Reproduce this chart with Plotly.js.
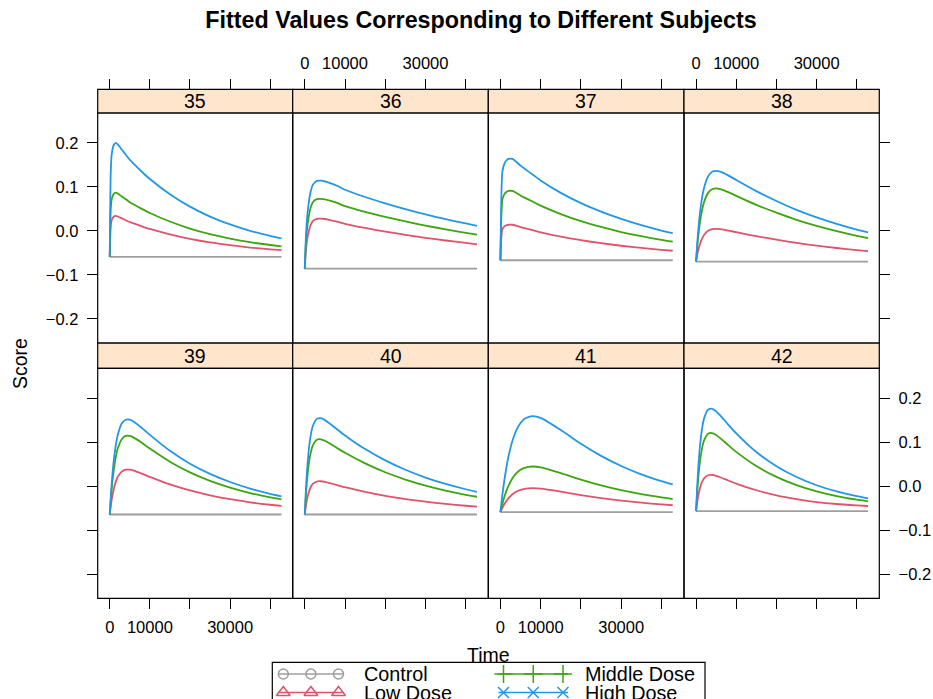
<!DOCTYPE html>
<html>
<head>
<meta charset="utf-8">
<script src="https://cdn.plot.ly/plotly-3.0.1.min.js"></script>
<style>html,body{margin:0;padding:0;background:#fff;}#chart{width:933px;height:699px;}</style>
</head>
<body>
<div id="chart"></div>
<script>
// ---------------- data ----------------
const subjects = ["35", "36", "37", "38", "39", "40", "41", "42"];
const groups = ["Control", "Low Dose", "Middle Dose", "High Dose"];
const time = [0, 250, 500, 1000, 1500, 2000, 3000, 4000, 5000, 6000, 8000, 10000, 15000, 20000, 25000, 30000, 35000, 40000, 42800];
const controlLevel = [-0.059, -0.0856, -0.0667, -0.0697, -0.0643, -0.0643, -0.059, -0.0567];

const low_35  = [-0.059, 0.0098, 0.0247, 0.0321, 0.0338, 0.0326, 0.0284, 0.0242, 0.0201, 0.0168, 0.0104, 0.0044, -0.0079, -0.0181, -0.0262, -0.0325, -0.0378, -0.0419, -0.0439];
const mid_35  = [-0.059, 0.049, 0.0724, 0.0841, 0.0867, 0.0848, 0.0782, 0.0717, 0.0652, 0.060, 0.0499, 0.0406, 0.0212, 0.0052, -0.0075, -0.0175, -0.0257, -0.0321, -0.0353];
const high_35 = [-0.059, 0.1327, 0.1741, 0.1948, 0.1995, 0.1961, 0.1845, 0.1728, 0.1614, 0.1521, 0.1342, 0.1176, 0.0832, 0.055, 0.0324, 0.0147, 0.0001, -0.0113, -0.017];

const low_36  = [-0.0856, -0.0481, -0.0254, -0.0004, 0.0144, 0.0223, 0.0274, 0.0278, 0.0269, 0.0252, 0.0212, 0.0161, 0.0066, -0.0015, -0.009, -0.0157, -0.0219, -0.0274, -0.0305];
const mid_36  = [-0.0856, -0.0333, -0.0015, 0.0334, 0.054, 0.0651, 0.0722, 0.0727, 0.0714, 0.069, 0.0635, 0.0563, 0.0432, 0.0318, 0.0213, 0.012, 0.0034, -0.0044, -0.0087];
const high_36 = [-0.0856, -0.0196, 0.0204, 0.0644, 0.0904, 0.1044, 0.1134, 0.114, 0.1124, 0.1094, 0.1024, 0.0934, 0.0768, 0.0624, 0.0492, 0.0374, 0.0266, 0.0168, 0.0114];

const low_37  = [-0.0667, -0.0141, 0.0038, 0.0103, 0.0127, 0.0139, 0.0139, 0.0115, 0.0086, 0.0062, 0.0016, -0.0032, -0.0131, -0.0212, -0.028, -0.0338, -0.0388, -0.043, -0.0451];
const mid_37  = [-0.0667, 0.036, 0.071, 0.0834, 0.088, 0.0905, 0.0905, 0.0858, 0.0802, 0.0755, 0.0665, 0.0572, 0.038, 0.022, 0.0088, -0.0026, -0.0122, -0.0206, -0.0245];
const high_37 = [-0.0667, 0.0835, 0.1343, 0.1528, 0.1597, 0.1632, 0.1632, 0.1562, 0.148, 0.1412, 0.128, 0.1144, 0.0862, 0.0631, 0.0437, 0.0271, 0.013, 0.0008, -0.005];

const low_38  = [-0.0697, -0.0571, -0.046, -0.0293, -0.0175, -0.0093, 0.0, 0.0037, 0.0045, 0.0038, 0.0008, -0.003, -0.0121, -0.0201, -0.0274, -0.0336, -0.0389, -0.0436, -0.0458];
const mid_38  = [-0.0697, -0.0415, -0.0166, 0.0208, 0.0472, 0.0654, 0.0862, 0.0945, 0.0963, 0.0948, 0.088, 0.0795, 0.0591, 0.0412, 0.0249, 0.0111, -0.0008, -0.0113, -0.0162];
const high_38 = [-0.0697, -0.0347, -0.0038, 0.0426, 0.0753, 0.098, 0.1237, 0.134, 0.1363, 0.1344, 0.126, 0.1155, 0.0902, 0.0679, 0.0477, 0.0306, 0.0158, 0.0028, -0.0034];

const low_39  = [-0.0643, -0.0459, -0.0305, -0.0069, 0.0097, 0.021, 0.0331, 0.0373, 0.0373, 0.0352, 0.0284, 0.021, 0.0039, -0.0098, -0.0207, -0.0295, -0.0366, -0.0422, -0.0448];
const mid_39  = [-0.0643, -0.0321, -0.005, 0.0365, 0.0655, 0.0853, 0.1066, 0.114, 0.114, 0.1102, 0.0984, 0.0853, 0.0555, 0.0313, 0.0121, -0.0033, -0.0156, -0.0255, -0.0301];
const high_39 = [-0.0643, -0.0254, 0.0072, 0.0573, 0.0923, 0.1163, 0.142, 0.1508, 0.1508, 0.1463, 0.132, 0.1163, 0.0802, 0.051, 0.0279, 0.0094, -0.0055, -0.0174, -0.023];

const low_40  = [-0.0643, -0.0469, -0.0329, -0.0136, -0.0019, 0.005, 0.0106, 0.0112, 0.0096, 0.0074, 0.0025, -0.0023, -0.013, -0.022, -0.0293, -0.0353, -0.0403, -0.0445, -0.0465];
const mid_40  = [-0.0643, -0.025, 0.0067, 0.0504, 0.077, 0.0925, 0.1052, 0.1064, 0.103, 0.098, 0.0868, 0.0758, 0.0516, 0.0315, 0.015, 0.0012, -0.0101, -0.0195, -0.024];
const high_40 = [-0.0643, -0.0139, 0.0267, 0.0827, 0.1166, 0.1365, 0.1527, 0.1543, 0.1499, 0.1435, 0.1292, 0.1152, 0.0841, 0.0585, 0.0372, 0.0196, 0.0051, -0.007, -0.0127];

const low_41  = [-0.059, -0.0538, -0.049, -0.0406, -0.0335, -0.0276, -0.0185, -0.0123, -0.0084, -0.006, -0.0045, -0.0055, -0.0124, -0.0202, -0.0271, -0.0328, -0.0375, -0.0414, -0.0433];
const mid_41  = [-0.059, -0.0492, -0.0401, -0.0241, -0.0106, 0.0007, 0.018, 0.0297, 0.0372, 0.0417, 0.0446, 0.0426, 0.0296, 0.0148, 0.0017, -0.0092, -0.0182, -0.0256, -0.0292];
const high_41 = [-0.059, -0.0383, -0.0193, 0.0145, 0.0428, 0.0667, 0.103, 0.1276, 0.1435, 0.1529, 0.159, 0.1549, 0.1274, 0.0962, 0.0687, 0.0458, 0.0268, 0.0113, 0.0038];

const low_42  = [-0.0567, -0.0394, -0.0245, -0.0036, 0.0096, 0.0178, 0.0248, 0.0255, 0.0234, 0.0202, 0.0128, 0.0057, -0.0093, -0.0207, -0.0293, -0.036, -0.0405, -0.0435, -0.045];
const mid_42  = [-0.0567, -0.0194, 0.0128, 0.0577, 0.0864, 0.1039, 0.119, 0.1205, 0.116, 0.109, 0.0932, 0.0778, 0.0456, 0.021, 0.0023, -0.0119, -0.0226, -0.0308, -0.0345];
const high_42 = [-0.0567, -0.0078, 0.0344, 0.0934, 0.1309, 0.1538, 0.1737, 0.1756, 0.1698, 0.1606, 0.1398, 0.1197, 0.0774, 0.0452, 0.0207, 0.0021, -0.012, -0.0228, -0.0276];

const xTickVals = [0, 10000, 20000, 30000, 40000];
const xTickText = ["0", "10000", "", "30000", ""];
const yTickVals = [-0.2, -0.1, 0, 0.1, 0.2];
const yTickText = ["\u22120.2", "\u22120.1", "0.0", "0.1", "0.2"];

// ---------------- build ----------------
const lowSeries  = [low_35, low_36, low_37, low_38, low_39, low_40, low_41, low_42];
const midSeries  = [mid_35, mid_36, mid_37, mid_38, mid_39, mid_40, mid_41, mid_42];
const highSeries = [high_35, high_36, high_37, high_38, high_39, high_40, high_41, high_42];

const colors = ["#9E9E9E", "#DF536B", "#3DA510", "#2297E6"];
const symbols = ["circle-open", "triangle-up-open", "cross-thin-open", "x-thin-open"];
const symSize = [10, 12, 13, 11];
const FONT = "Liberation Sans, Arial, Helvetica, sans-serif";

const W = 933, H = 699;
const colPx = [[97.7, 292.7], [292.7, 488.3], [488.3, 684], [684, 879.3]];
const rowPlot = [[113, 343], [368.3, 598.3]];
const rowStrip = [[89.3, 113], [343, 368.3]];
const px = x => x / W;
const py = y => 1 - y / H;

const traces = [];
const layout = {
  width: W, height: H,
  margin: {l: 0, r: 0, t: 0, b: 0},
  paper_bgcolor: "#fff", plot_bgcolor: "rgba(0,0,0,0)",
  font: {family: FONT, color: "#000", size: 16.5},
  showlegend: false,
  title: {text: "Fitted Values Corresponding to Different Subjects", x: 481 / W, xanchor: "center",
          y: py(20), yanchor: "middle", yref: "paper", xref: "paper",
          font: {family: FONT, size: 23.3, weight: 700, color: "#000"}},
  shapes: [], annotations: []
};

subjects.forEach((s, i) => {
  const r = Math.floor(i / 4), c = i % 4;
  const xa = "x" + (i + 1), ya = "y" + (i + 1);
  const series = [time.map(() => controlLevel[i]), lowSeries[i], midSeries[i], highSeries[i]];
  series.forEach((vals, g) => {
    traces.push({type: "scatter", mode: "lines", x: time, y: vals, xaxis: xa, yaxis: ya,
      line: {color: colors[g], width: 1.8, shape: g === 0 ? "linear" : "spline", smoothing: 0.6},
      name: groups[g], hoverinfo: "skip"});
  });
  const x0 = colPx[c][0], x1 = colPx[c][1];
  const showXLab = r === 0 ? (c === 1 || c === 3) : (c === 0 || c === 2);
  const xax = {
    domain: [px(x0), px(x1)], range: [-3000, 45600],
    tickmode: "array", tickvals: xTickVals, ticktext: xTickText,
    ticks: "outside", ticklen: 10, tickwidth: 1, tickcolor: "#000",
    showticklabels: showXLab, ticklabelstandoff: 4,
    tickfont: {family: FONT, size: 16.5, color: "#000"},
    showgrid: false, zeroline: false, showline: false, fixedrange: true,
    side: r === 0 ? "top" : "bottom"
  };
  if (r === 0) { xax.anchor = "free"; xax.position = py(rowStrip[0][0]); }
  else { xax.anchor = ya; }
  layout["xaxis" + (i + 1)] = xax;
  const hasYTicks = (c === 0 || c === 3);
  const showYLab = (c === 0 && r === 0) || (c === 3 && r === 1);
  layout["yaxis" + (i + 1)] = {
    domain: [py(rowPlot[r][1]), py(rowPlot[r][0])], range: [-0.2545, 0.2675],
    anchor: xa, side: c === 3 ? "right" : "left",
    tickmode: "array", tickvals: yTickVals, ticktext: yTickText,
    ticks: hasYTicks ? "outside" : "", ticklen: 10, tickwidth: 1, tickcolor: "#000",
    showticklabels: showYLab, ticklabelstandoff: 5,
    tickfont: {family: FONT, size: 16.5, color: "#000"},
    showgrid: false, zeroline: false, showline: false, fixedrange: true
  };
  layout.shapes.push({type: "rect", xref: "paper", yref: "paper",
    x0: px(x0), x1: px(x1), y0: py(rowStrip[r][1]), y1: py(rowStrip[r][0]),
    fillcolor: "#FFE5CC", line: {color: "#000", width: 1.2}, layer: "below"});
  layout.shapes.push({type: "rect", xref: "paper", yref: "paper",
    x0: px(x0), x1: px(x1), y0: py(rowPlot[r][1]), y1: py(rowPlot[r][0]),
    fillcolor: "rgba(0,0,0,0)", line: {color: "#000", width: 1.2}, layer: "above"});
  layout.annotations.push({text: s, xref: "paper", yref: "paper",
    x: px((x0 + x1) / 2), y: py((rowStrip[r][0] + rowStrip[r][1]) / 2),
    xanchor: "center", yanchor: "middle", showarrow: false,
    font: {family: FONT, size: 19.5, color: "#000"}});
});

// ---------------- key (lattice-style legend in its own pixel-space axis) ----------------
layout.xaxis9 = {domain: [0, 1], range: [0, W], visible: false, fixedrange: true, anchor: "y9"};
layout.yaxis9 = {domain: [0, 1], range: [H, 0], visible: false, fixedrange: true, anchor: "x9"};
const keyCols = [{lineX: [278.3, 343.5], text: 362}, {lineX: [498.5, 568], text: 583}];
const keyRows = [674, 692.5];
const keyPos = [[0, 0], [0, 1], [1, 0], [1, 1]]; // [col,row] for Control, Low, Middle, High
groups.forEach((g, k) => {
  const kc = keyCols[keyPos[k][0]], ky = keyRows[keyPos[k][1]];
  const a = kc.lineX[0], b = kc.lineX[1], pad = 5;
  const mx = [a + pad, (a + b) / 2, b - pad];
  traces.push({type: "scatter", mode: "lines", x: [a, b], y: [ky, ky], xaxis: "x9", yaxis: "y9",
    line: {color: colors[k], width: 1.7}, hoverinfo: "skip"});
  traces.push({type: "scatter", mode: "markers", x: mx, y: [ky, ky, ky], xaxis: "x9", yaxis: "y9",
    marker: {symbol: symbols[k], color: colors[k], size: symSize[k], line: {color: colors[k], width: 1.5}},
    hoverinfo: "skip"});
  layout.annotations.push({text: g, xref: "paper", yref: "paper", x: px(kc.text), y: py(ky),
    xanchor: "left", yanchor: "middle", showarrow: false,
    font: {family: FONT, size: 19.8, color: "#000"}});
});
layout.shapes.push({type: "rect", xref: "paper", yref: "paper",
  x0: px(272.3), x1: px(705), y0: py(725), y1: py(662.3),
  fillcolor: "rgba(0,0,0,0)", line: {color: "#000", width: 1.2}, layer: "above"});

layout.annotations.push({text: "Time", xref: "paper", yref: "paper", x: px(488.5), y: py(655),
  xanchor: "center", yanchor: "middle", showarrow: false, font: {family: FONT, size: 19.5, color: "#000"}});
layout.annotations.push({text: "Score", xref: "paper", yref: "paper", x: px(20), y: py(364),
  xanchor: "center", yanchor: "middle", textangle: -90, showarrow: false, font: {family: FONT, size: 19.5, color: "#000"}});

Plotly.newPlot("chart", traces, layout, {displayModeBar: false, staticPlot: true});
</script>
</body>
</html>
